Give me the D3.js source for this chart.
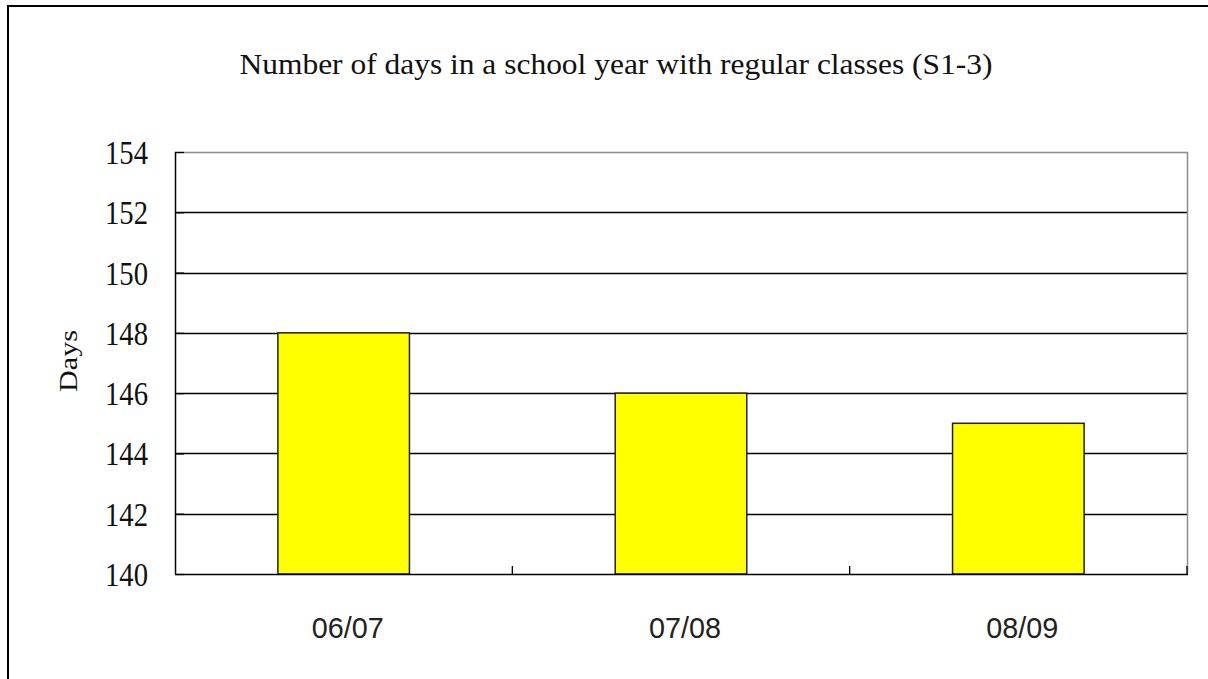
<!DOCTYPE html>
<html>
<head>
<meta charset="utf-8">
<script src="https://d3js.org/d3.v7.min.js"></script>
<style>
  body { margin: 0; background: #fff; overflow: hidden; }
  svg { display: block; }
</style>
</head>
<body>
<script>
// Days with regular classes, S1-3
const years = ["06/07", "07/08", "08/09"];
const days = [148, 146, 145];
const yTicks = [140, 142, 144, 146, 148, 150, 152, 154];

const W = 1208, H = 679;
const svg = d3.select("body").append("svg")
  .attr("width", W)
  .attr("height", H);

// outer frame: only top and left edges fall inside the picture
svg.append("path")
  .attr("d", `M8,${H}V6H${W}`)
  .attr("fill", "none")
  .attr("stroke", "black")
  .attr("stroke-width", 2);

const plot = { left: 175, right: 1187, top: 152, bottom: 574 };

const x = d3.scaleBand()
  .domain(years)
  .range([plot.left, plot.right])
  .paddingInner(0.61)
  .paddingOuter(0.305);

const band = d3.scaleBand().domain(years).range([plot.left, plot.right]);

const y = d3.scaleLinear()
  .domain([140, 154])
  .range([plot.bottom, plot.top]);

// gridlines
svg.append("g")
  .selectAll("line")
  .data(yTicks.slice(1, -1))
  .join("line")
  .attr("x1", plot.left).attr("x2", plot.right)
  .attr("y1", d => Math.round(y(d)) + 0.5).attr("y2", d => Math.round(y(d)) + 0.5)
  .attr("stroke", "black")
  .attr("stroke-width", 1.3);

// top and right border in gray
svg.append("path")
  .attr("d", `M${plot.left},${plot.top + 0.5}H${plot.right + 0.5}V${plot.bottom}`)
  .attr("fill", "none")
  .attr("stroke", "#8c8c8c")
  .attr("stroke-width", 1.5);

// bars
svg.append("g")
  .selectAll("rect")
  .data(years)
  .join("rect")
  .attr("x", d => x(d))
  .attr("y", (d, i) => y(days[i]))
  .attr("width", x.bandwidth())
  .attr("height", (d, i) => y(140) - y(days[i]))
  .attr("fill", "#ffff00")
  .attr("stroke", "#222")
  .attr("stroke-width", 1.5);

// y axis
const yAxis = svg.append("g")
  .attr("transform", `translate(${plot.left},0)`)
  .call(d3.axisRight(y).tickValues(yTicks).tickSize(9).tickFormat(""));
yAxis.select(".domain").attr("stroke", "black").attr("stroke-width", 1.5)
  .attr("d", `M0.5,${plot.top}V${plot.bottom}`);
yAxis.selectAll(".tick line").attr("stroke", "black").attr("stroke-width", 1.3);

svg.append("g")
  .selectAll("text")
  .data(yTicks)
  .join("text")
  .attr("x", 148)
  .attr("y", d => y(d) + 12)
  .attr("text-anchor", "end")
  .attr("font-family", "Liberation Serif")
  .attr("font-size", 33)
  .attr("textLength", 43)
  .attr("lengthAdjust", "spacingAndGlyphs")
  .attr("fill", "#111")
  .text(d => d);

// x axis
svg.append("line")
  .attr("x1", plot.left).attr("x2", plot.right + 1)
  .attr("y1", plot.bottom + 0.5).attr("y2", plot.bottom + 0.5)
  .attr("stroke", "black")
  .attr("stroke-width", 1.5);

svg.append("g")
  .selectAll("line")
  .data(years.slice(1).concat(["end"]))
  .join("line")
  .attr("x1", d => d === "end" ? plot.right : band(d))
  .attr("x2", d => d === "end" ? plot.right : band(d))
  .attr("y1", plot.bottom - 8).attr("y2", plot.bottom)
  .attr("stroke", "black")
  .attr("stroke-width", 1.3);

svg.append("g")
  .selectAll("text")
  .data(years)
  .join("text")
  .attr("x", d => x(d) + x.bandwidth() / 2 + 4)
  .attr("y", 638)
  .attr("text-anchor", "middle")
  .attr("font-family", "Liberation Sans")
  .attr("font-size", 30)
  .attr("textLength", 72)
  .attr("lengthAdjust", "spacingAndGlyphs")
  .attr("fill", "#222")
  .text(d => d);

// axis title
svg.append("text")
  .attr("transform", "translate(77,361) rotate(-90)")
  .attr("text-anchor", "middle")
  .attr("font-family", "Liberation Serif")
  .attr("font-size", 25)
  .attr("textLength", 62)
  .attr("lengthAdjust", "spacingAndGlyphs")
  .attr("fill", "#111")
  .text("Days");

// chart title
svg.append("text")
  .attr("x", 616)
  .attr("y", 74)
  .attr("text-anchor", "middle")
  .attr("font-family", "Liberation Serif")
  .attr("font-size", 29)
  .attr("textLength", 753)
  .attr("lengthAdjust", "spacingAndGlyphs")
  .attr("fill", "#111")
  .text("Number of days in a school year with regular classes (S1-3)");
</script>
</body>
</html>
